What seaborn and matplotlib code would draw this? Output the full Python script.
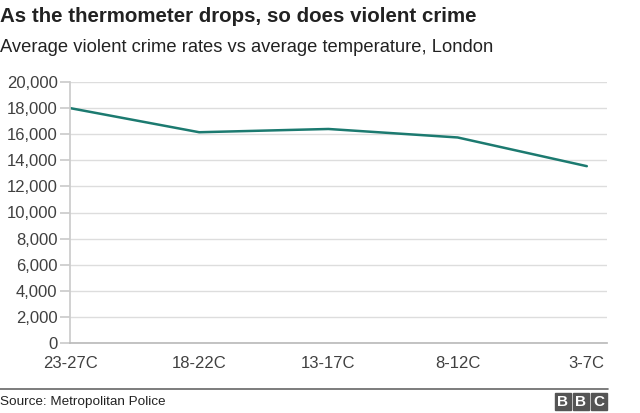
import matplotlib
matplotlib.use("Agg")
import matplotlib.pyplot as plt
import seaborn as sns
import pandas as pd
from matplotlib.ticker import FuncFormatter
from matplotlib.patches import Rectangle

categories = ["23-27C", "18-22C", "13-17C", "8-12C", "3-7C"]
crime = [18000, 16150, 16400, 15750, 13550]
yticks = list(range(0, 20001, 2000))

title = "As the thermometer drops, so does violent crime"
subtitle = "Average violent crime rates vs average temperature, London"
source = "Source: Metropolitan Police"

sns.set_theme(style="white")
plt.rcParams["font.family"] = ["Liberation Sans", "DejaVu Sans"]

df = pd.DataFrame({"temp": categories, "crime": crime})
df["pos"] = range(len(df))

fig = plt.figure(figsize=(6.4, 4.13), dpi=100)
ax = fig.add_axes([70/640, 1-343/413, (607-70)/640, (343-82)/413])

sns.lineplot(data=df, x="pos", y="crime", ax=ax, color="#1c7a70", linewidth=1.8)

ax.set_xlim(0, 4 + 20/128)
ax.set_ylim(0, 20000)
ax.set_yticks(yticks)
ax.yaxis.set_major_formatter(FuncFormatter(lambda v, p: f"{int(v):,}"))
ax.set_xticks(range(len(categories)))
ax.set_xticklabels(categories)
ax.set_xlabel("")
ax.set_ylabel("")
ax.grid(axis="y", color="#dddddd", linewidth=1)
ax.set_axisbelow(True)
for s in ["top", "right"]:
    ax.spines[s].set_visible(False)
ax.spines["left"].set_color("#cccccc")
ax.spines["bottom"].set_color("#bbbbbb")
ax.tick_params(axis="y", which="major", length=7, color="#cccccc", labelsize=12,
               labelcolor="#404040", pad=2, left=True)
ax.tick_params(axis="x", length=0, labelsize=12, labelcolor="#404040", pad=9)

fig.text(0.0, 1-17/413, title, fontsize=14.8, fontweight="bold", color="#222222", va="center", ha="left")
fig.text(0.0, 1-47/413, subtitle, fontsize=13.2, color="#222222", va="center", ha="left")

# footer line
fig.add_artist(plt.Line2D([0, 608/640], [1-389/413, 1-389/413], color="#666666", linewidth=1.2))
fig.text(0.0, 1-402/413, source, fontsize=9.7, color="#222222", va="center", ha="left")

# BBC logo
for i, letter in enumerate("BBC"):
    x0 = (555 + i*18)/640
    fig.add_artist(Rectangle((x0, 1-410/413), 16/640, 17/413, color="#555555", transform=fig.transFigure))
    fig.text(x0 + 8/640, 1-401.5/413, letter, fontsize=11, fontweight="bold", color="white", ha="center", va="center")

fig.savefig("out.png", dpi=100, facecolor="white")
